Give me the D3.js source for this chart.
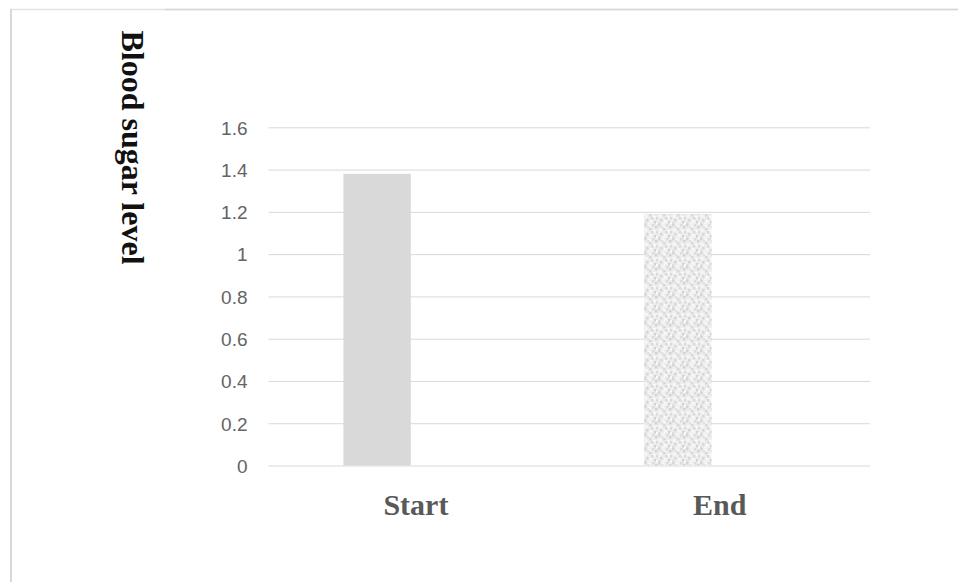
<!DOCTYPE html>
<html>
<head>
<meta charset="utf-8">
<script src="https://cdn.jsdelivr.net/npm/d3@7"></script>
<style>
  html, body { margin: 0; padding: 0; background: #fff; }
  svg { display: block; }
</style>
</head>
<body>
<svg id="chart" width="958" height="582"></svg>
<script>
// ---- data ----
const categories = ["Start", "End"];
const values = [1.38, 1.19];
const yTicks = [0, 0.2, 0.4, 0.6, 0.8, 1, 1.2, 1.4, 1.6];
const yTickLabels = ["0", "0.2", "0.4", "0.6", "0.8", "1", "1.2", "1.4", "1.6"];
const yTitle = "Blood sugar level";
const slots = ["value", "empty"]; // bar sits in the first of two series slots per category

// ---- layout ----
const W = 958, H = 582;
const plot = { left: 268.5, right: 870, top: 127.3, bottom: 465.5 };

const svg = d3.select("#chart");

// speckled texture for the second bar
const defs = svg.append("defs");
const pat = defs.append("pattern")
  .attr("id", "speckle").attr("patternUnits", "userSpaceOnUse")
  .attr("width", 14).attr("height", 14);
pat.append("rect").attr("width", 14).attr("height", 14).attr("fill", "#eeeeee");
const specks = [
  [0,0,"#d6d6d6"],[4,1,"#fafafa"],[8,0,"#dcdcdc"],[11,2,"#d3d3d3"],
  [1,5,"#f8f8f8"],[5,4,"#d8d8d8"],[9,6,"#fbfbfb"],[12,7,"#dadada"],
  [2,9,"#d6d6d6"],[6,10,"#f9f9f9"],[10,11,"#d2d2d2"],[0,12,"#dedede"],
  [4,13,"#f7f7f7"],[7,7,"#d9d9d9"],[3,2,"#e2e2e2"],[12,12,"#fafafa"]
];
pat.selectAll("rect.s").data(specks).join("rect").attr("class", "s")
  .attr("x", d => d[0]).attr("y", d => d[1])
  .attr("width", 2.5).attr("height", 2.5).attr("fill", d => d[2]);

// frame lines
svg.append("line").attr("x1", 10).attr("x2", W).attr("y1", 9.5).attr("y2", 9.5)
  .attr("stroke", "#e4e4e4").attr("stroke-width", 1.5);
svg.append("line").attr("x1", 165).attr("x2", W).attr("y1", 9.5).attr("y2", 9.5)
  .attr("stroke", "#d6d6d6").attr("stroke-width", 1.5);
svg.append("line").attr("x1", 11).attr("x2", 11).attr("y1", 9).attr("y2", H)
  .attr("stroke", "#d8d8d8").attr("stroke-width", 2);

// scales
const x = d3.scaleBand().domain(categories).range([plot.left, plot.right]).padding(0);
const xSub = d3.scaleBand().domain(slots).range([0, x.bandwidth()])
  .paddingInner(0.194).paddingOuter(0.897);
const y = d3.scaleLinear().domain([0, 1.6]).range([plot.bottom, plot.top]);

// gridlines
const yAxis = d3.axisLeft(y).tickValues(yTicks)
  .tickSize(-(plot.right - plot.left))
  .tickFormat((d, i) => yTickLabels[i]);
const gy = svg.append("g").attr("transform", `translate(${plot.left},0)`).call(yAxis);
gy.select(".domain").remove();
gy.selectAll(".tick line").attr("stroke", "#d9d9d9").attr("stroke-width", 1);
gy.selectAll(".tick text")
  .attr("x", -21)
  .attr("dy", "0.36em")
  .attr("fill", "#646464")
  .style("font-family", "'Liberation Sans', Arial, sans-serif")
  .style("font-size", "19px");

// bars
svg.append("g").selectAll("rect").data(categories).join("rect")
  .attr("x", d => x(d) + xSub("value"))
  .attr("width", xSub.bandwidth())
  .attr("y", (d, i) => y(values[i]))
  .attr("height", (d, i) => y(0) - y(values[i]))
  .attr("fill", (d, i) => i === 0 ? "#d9d9d9" : "url(#speckle)");

// x axis labels
const xAxis = d3.axisBottom(x).tickSize(0).tickPadding(0);
const gx = svg.append("g").attr("transform", `translate(0,${plot.bottom})`).call(xAxis);
gx.select(".domain").remove();
gx.selectAll(".tick text")
  .attr("y", 49.5).attr("dy", 0)
  .attr("dx", (d, i) => i === 0 ? -3 : 0)
  .attr("fill", "#595959")
  .style("font-family", "'Liberation Serif', 'Times New Roman', serif")
  .style("font-weight", "bold")
  .style("font-size", "30px");

// y title (rotated clockwise)
svg.append("text")
  .attr("transform", "translate(122,147.5) rotate(90)")
  .attr("text-anchor", "middle")
  .attr("fill", "#111")
  .style("font-family", "'Liberation Serif', 'Times New Roman', serif")
  .style("font-weight", "bold")
  .style("font-size", "32px")
  .text(yTitle);
</script>
</body>
</html>
